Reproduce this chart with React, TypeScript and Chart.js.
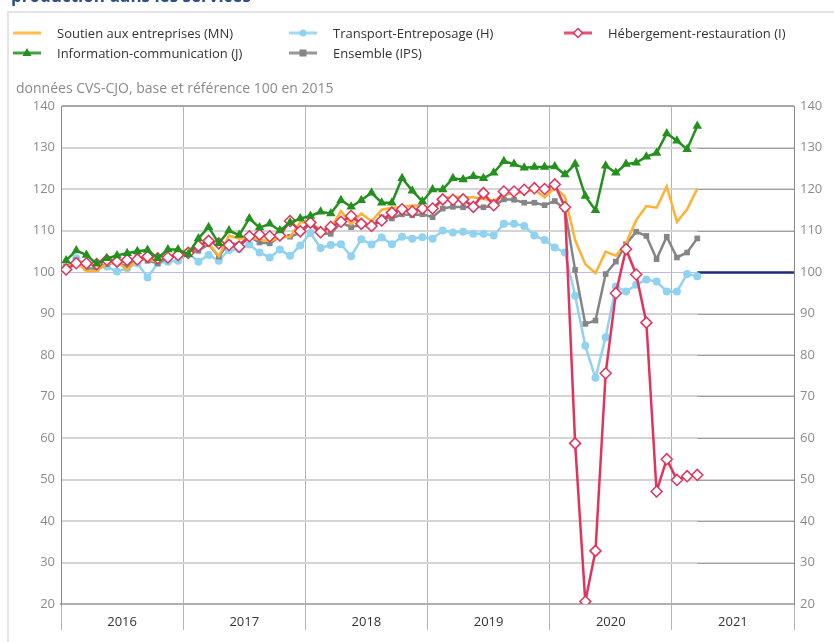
import React, { useEffect, useRef } from 'react';
import Chart from 'chart.js/auto';

// ---- Data (monthly, Jan 2016 .. Mar 2021) ----
const START_YEAR = 2016;
const YEAR_LABELS = ['2016', '2017', '2018', '2019', '2020', '2021'];
const MONTHS_ON_AXIS = 72;
const Y_MIN = 20;
const Y_MAX = 140;
const Y_STEP = 10;
const REF_VALUE = 100;

const soutien = [
  101.0, 102.5, 100.2, 100.3, 102.0, 102.5, 100.5, 103.0, 103.0, 102.5, 103.8, 104.5,
  105.5, 106.0, 107.0, 103.8, 108.8, 108.0, 108.3, 107.8, 107.5, 108.3, 108.5, 112.0,
  112.0, 110.0, 110.5, 114.7, 111.5, 114.1, 112.2, 115.0, 115.5, 115.6, 116.0, 116.0,
  114.6, 117.8, 118.2, 118.0, 118.0, 117.6, 117.2, 118.5, 119.0, 119.2, 119.8, 118.0,
  120.3, 118.2, 107.7, 101.9, 99.7, 104.9, 103.9, 106.9, 112.5, 115.9, 115.5, 120.6,
  112.1, 115.1, 120.1,
];
const transport = [
  101.0, 103.3, 101.7, 101.7, 101.3, 100.1, 100.9, 102.1, 98.7, 102.1, 102.5, 102.7,
  104.5, 102.5, 104.1, 102.7, 105.3, 105.5, 106.6, 104.7, 103.5, 105.4, 103.9, 106.4,
  109.4, 105.8, 106.5, 106.7, 103.8, 107.9, 106.6, 108.3, 106.7, 108.5, 108.0, 108.4,
  108.0, 110.0, 109.5, 109.7, 109.2, 109.2, 108.8, 111.6, 111.6, 111.1, 108.8, 107.7,
  105.9, 104.7, 94.3, 82.2, 74.5, 84.3, 96.5, 95.3, 96.9, 98.2, 97.7, 95.3,
  95.3, 99.5, 99.0,
];
const hebergement = [
  100.6, 102.1, 102.1, 101.9, 102.9, 102.5, 102.9, 103.0, 103.7, 103.3, 103.5, 104.1,
  104.6, 106.3, 107.5, 106.9, 106.5, 106.1, 108.6, 109.0, 108.6, 108.8, 112.3, 109.8,
  111.9, 109.6, 110.9, 112.1, 113.5, 111.6, 111.1, 112.4, 114.3, 115.1, 114.6, 115.3,
  115.3, 117.5, 117.4, 117.5, 115.7, 119.0, 116.1, 119.4, 119.4, 119.8, 120.2, 120.0,
  121.1, 115.6, 58.7, 20.6, 32.8, 75.6, 94.9, 105.5, 99.4, 87.8, 47.1, 54.9,
  49.9, 50.8, 51.1,
];
const information = [
  102.8, 105.2, 104.1, 102.0, 103.3, 104.0, 104.5, 105.0, 105.3, 103.3, 105.4, 105.4,
  104.3, 108.1, 110.8, 106.9, 110.0, 108.9, 112.9, 110.7, 111.6, 110.0, 111.9, 112.9,
  113.5, 114.5, 114.1, 117.3, 115.7, 117.3, 119.1, 116.7, 116.7, 122.6, 119.6, 117.0,
  119.9, 119.9, 122.6, 122.3, 123.1, 122.6, 123.9, 126.7, 126.0, 125.1, 125.3, 125.3,
  125.4, 123.5, 126.0, 118.3, 114.9, 125.6, 123.9, 126.0, 126.3, 127.8, 128.7, 133.4,
  131.6, 129.6, 135.2,
];
const ensemble = [
  101.3, 102.8, 100.9, 100.8, 101.9, 102.3, 101.3, 103.7, 102.7, 102.1, 103.4, 104.1,
  104.6, 105.1, 106.7, 103.7, 107.1, 106.6, 108.5, 107.1, 106.9, 108.5, 108.5, 109.5,
  111.6, 109.3, 109.2, 111.9, 110.8, 111.3, 110.9, 113.2, 112.9, 113.9, 113.7, 113.9,
  113.2, 115.3, 115.7, 115.6, 115.7, 115.6, 115.9, 117.5, 117.4, 116.7, 116.7, 116.1,
  117.1, 115.1, 100.5, 87.5, 88.3, 99.5, 102.5, 106.7, 109.7, 108.7, 103.1, 108.5,
  103.5, 104.7, 108.1,
];

const SERIES = [
  { name: 'Soutien aux entreprises (MN)', data: soutien, color: '#FFB133', marker: 'none', order: 3 },
  { name: 'Transport-Entreposage (H)', data: transport, color: '#8FD3F0', marker: 'circle', order: 5 },
  { name: 'Hébergement-restauration (I)', data: hebergement, color: '#E2335C', marker: 'diamond', order: 2 },
  { name: 'Information-communication (J)', data: information, color: '#24901E', marker: 'triangle', order: 1 },
  { name: 'Ensemble (IPS)', data: ensemble, color: '#858585', marker: 'square', order: 4 },
];

const FONT = '"Open Sans", "DejaVu Sans", sans-serif';

function toPoints(arr: number[]) {
  return arr.map((v, i) => ({ x: i + 0.5, y: v }));
}

function datasetFor(s: any) {
  const base: any = {
    label: s.name,
    data: toPoints(s.data),
    borderColor: s.color,
    backgroundColor: s.color,
    borderWidth: 2.5,
    tension: 0,
    order: s.order,
    pointHoverRadius: 0,
  };
  if (s.marker === 'none') {
    base.pointRadius = 0;
  } else if (s.marker === 'circle') {
    base.pointStyle = 'circle';
    base.pointRadius = 4;
    base.pointBorderWidth = 0;
    base.pointBackgroundColor = s.color;
  } else if (s.marker === 'diamond') {
    base.pointStyle = 'rectRot';
    base.pointRadius = 5.5;
    base.pointBorderWidth = 1.5;
    base.pointBackgroundColor = '#ffffff';
    base.pointBorderColor = s.color;
  } else if (s.marker === 'triangle') {
    base.pointStyle = 'triangle';
    base.pointRadius = 5.5;
    base.pointBorderWidth = 0;
    base.pointBackgroundColor = s.color;
  } else if (s.marker === 'square') {
    base.pointStyle = 'rect';
    base.pointRadius = 4;
    base.pointBorderWidth = 0;
    base.pointBackgroundColor = s.color;
  }
  return base;
}

const refPlugin = {
  id: 'refLine',
  beforeDatasetsDraw(chart: any) {
    const { ctx, chartArea, scales } = chart;
    const lastX = scales.x.getPixelForValue(soutien.length - 0.5);
    ctx.save();
    ctx.strokeStyle = '#a0a0a0';
    ctx.lineWidth = 1;
    for (let v = Y_MIN + Y_STEP; v < Y_MAX; v += Y_STEP) {
      if (v === REF_VALUE) continue;
      const yy = Math.round(scales.y.getPixelForValue(v)) + 0.5;
      ctx.beginPath();
      ctx.moveTo(lastX, yy);
      ctx.lineTo(chartArea.right, yy);
      ctx.stroke();
    }
    const y = Math.round(scales.y.getPixelForValue(REF_VALUE)) + 0.5;
    ctx.strokeStyle = '#bdb8ee';
    ctx.lineWidth = 1;
    ctx.beginPath();
    ctx.moveTo(chartArea.left, y);
    ctx.lineTo(lastX, y);
    ctx.stroke();
    ctx.strokeStyle = '#1f2a7c';
    ctx.lineWidth = 2.5;
    ctx.beginPath();
    ctx.moveTo(lastX, y);
    ctx.lineTo(chartArea.right, y);
    ctx.stroke();
    ctx.restore();
  },
};

function LegendMarker({ s }: { s: any }) {
  const c = s.color;
  let m: any = null;
  if (s.marker === 'circle') m = <circle cx={14} cy={6} r={3.5} fill={c} />;
  if (s.marker === 'diamond') m = <polygon points="14,1.5 18.5,6 14,10.5 9.5,6" fill="#fff" stroke={c} strokeWidth={1.5} />;
  if (s.marker === 'triangle') m = <polygon points="14,1 18.5,9 9.5,9" fill={c} />;
  if (s.marker === 'square') m = <rect x={10.5} y={2.5} width={7} height={7} fill={c} />;
  return (
    <svg width={28} height={12} style={{ display: 'block' }}>
      <line x1={0} y1={6} x2={28} y2={6} stroke={c} strokeWidth={3} strokeOpacity={0.85} />
      {m}
    </svg>
  );
}

const LEGEND_POS = [
  { left: 13, top: 26 },
  { left: 289, top: 26 },
  { left: 564, top: 26 },
  { left: 13, top: 46 },
  { left: 289, top: 46 },
];

export default function App() {
  const ref = useRef<HTMLCanvasElement | null>(null);

  useEffect(() => {
    document.body.style.margin = '0';
    const canvas = ref.current!;
    const chart = new Chart(canvas, {
      type: 'line',
      data: { datasets: SERIES.map(datasetFor) },
      plugins: [refPlugin],
      options: {
        responsive: false,
        animation: false,
        events: [],
        layout: { padding: { top: 106, left: 0, right: 0, bottom: 0 } },
        plugins: { legend: { display: false }, tooltip: { enabled: false } },
        scales: {
          x: {
            type: 'linear',
            min: 0,
            max: MONTHS_ON_AXIS,
            afterBuildTicks: (s: any) => {
              const t = [];
              for (let v = 0; v <= MONTHS_ON_AXIS; v += 6) t.push({ value: v });
              s.ticks = t;
            },
            afterFit: (s: any) => {
              s.height = 38;
            },
            grid: {
              color: (c: any) => (c.tick && c.tick.value % 12 === 0 ? '#b3b3b3' : 'rgba(0,0,0,0)'),
              lineWidth: 1,
              tickLength: 26,
            },
            border: { color: '#b0b0b0', width: 2 },
            ticks: {
              autoSkip: false,
              maxRotation: 0,
              padding: -16,
              color: '#333333',
              font: { family: FONT, size: 13 },
              callback: (v: any) => {
                const n = Number(v);
                if (n % 12 !== 6) return '';
                return YEAR_LABELS[(n - 6) / 12] ?? String(START_YEAR + (n - 6) / 12);
              },
            },
          },
          y: {
            position: 'left',
            min: Y_MIN,
            max: Y_MAX,
            afterFit: (s: any) => {
              s.width = 61;
            },
            grid: {
              color: (c: any) => {
                const v = c.tick && c.tick.value;
                if (v === REF_VALUE) return 'rgba(0,0,0,0)';
                if (v === Y_MAX) return '#a8a8a8';
                return '#d4d4d4';
              },
              lineWidth: 2,
              drawTicks: false,
            },
            border: { color: '#8a8a8a', width: 1 },
            ticks: {
              stepSize: Y_STEP,
              padding: 6,
              color: '#8c8c8c',
              font: { family: FONT, size: 13 },
            },
          },
          y2: {
            position: 'right',
            min: Y_MIN,
            max: Y_MAX,
            afterFit: (s: any) => {
              s.width = 40;
            },
            grid: { display: false, drawTicks: false },
            border: { color: '#8a8a8a', width: 1 },
            ticks: {
              stepSize: Y_STEP,
              padding: 6,
              color: '#8c8c8c',
              font: { family: FONT, size: 13 },
            },
          },
        },
      } as any,
    });
    return () => chart.destroy();
  }, []);

  return (
    <div style={{ position: 'relative', width: 834, height: 642, overflow: 'hidden', fontFamily: FONT }}>
      <canvas ref={ref} width={834} height={642} style={{ position: 'absolute', left: 0, top: 0, display: 'block' }} />
      <div
        style={{
          position: 'absolute',
          left: 11,
          top: -16,
          fontSize: 17,
          fontWeight: 700,
          color: '#2b4f8e',
          whiteSpace: 'nowrap',
          lineHeight: '23px',
        }}
      >
        production dans les services
      </div>
      <div
        style={{
          position: 'absolute',
          left: 7,
          top: 11,
          width: 840,
          height: 640,
          borderTop: '2px solid #e4e4e4',
          borderLeft: '2px solid #e4e4e4',
          pointerEvents: 'none',
        }}
      />
      {SERIES.map((s, i) => (
        <div
          key={s.name}
          style={{
            position: 'absolute',
            left: LEGEND_POS[i].left,
            top: LEGEND_POS[i].top,
            display: 'flex',
            alignItems: 'center',
            gap: 16,
            fontSize: 13,
            color: '#333',
            whiteSpace: 'nowrap',
            lineHeight: '14px',
          }}
        >
          <LegendMarker s={s} />
          <span>{s.name}</span>
        </div>
      ))}
      <div
        style={{
          position: 'absolute',
          left: 16,
          top: 78,
          fontSize: 14,
          color: '#8a8a8a',
          whiteSpace: 'nowrap',
          lineHeight: '19px',
        }}
      >
        données CVS-CJO, base et référence 100 en 2015
      </div>
    </div>
  );
}
